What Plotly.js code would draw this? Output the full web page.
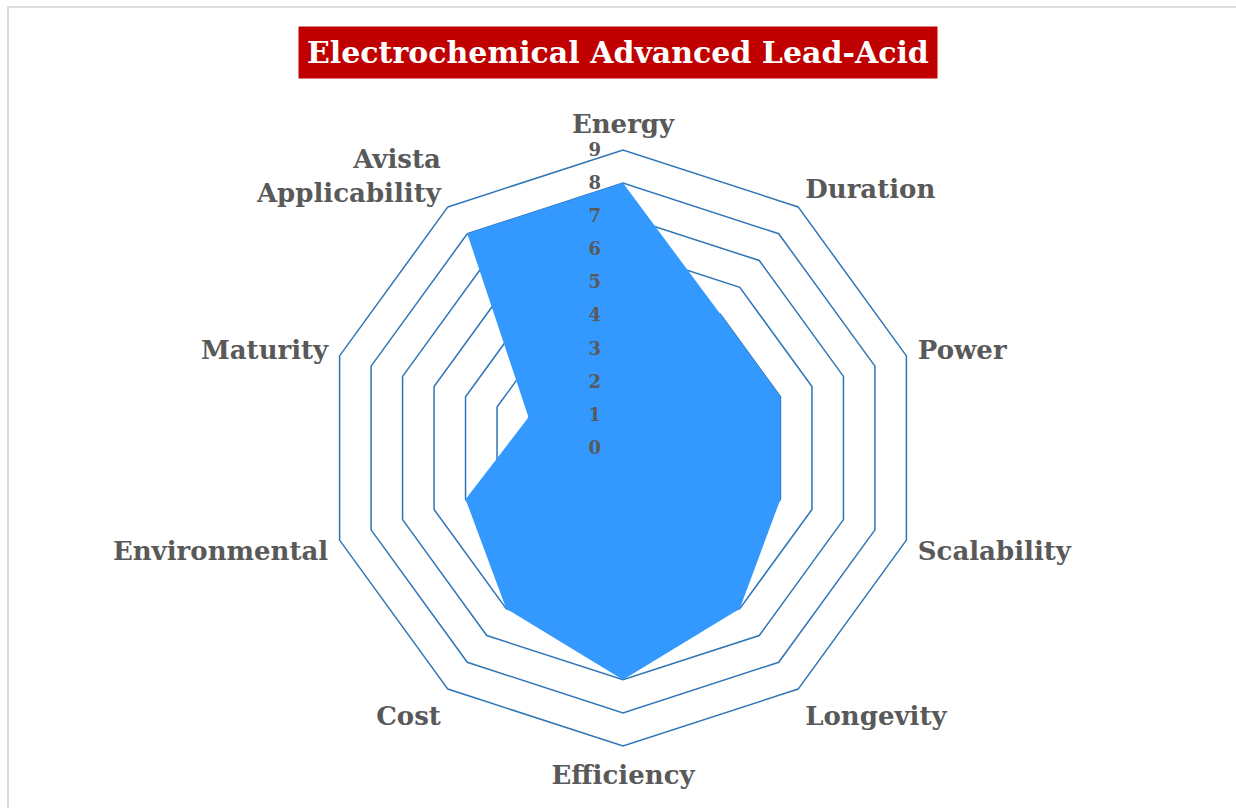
<!DOCTYPE html>
<html>
<head>
<meta charset="utf-8">
<script src="https://cdn.plot.ly/plotly-3.0.1.min.js"></script>
<style>
html,body{margin:0;padding:0;background:#fff;overflow:hidden;}
#frame{position:absolute;left:7px;top:6px;width:1240px;height:820px;border:2px solid #dcdcdc;box-sizing:border-box;}
#chart{position:absolute;left:0;top:0;width:1236px;height:808px;}
</style>
</head>
<body>
<div id="frame"></div>
<div id="chart"></div>
<script>
const categories = ["Energy","Duration","Power","Scalability","Longevity","Efficiency","Cost","Environmental","Maturity","Avista<br>Applicability"];
const values = [8,5,5,5,6,7,6,5,3,8];
const radialTicks = [0,1,2,3,4,5,6,7,8,9];
const chartTitle = "Electrochemical Advanced Lead-Acid";

const serif = "'Palatino Linotype','Book Antiqua',Palatino,'DejaVu Serif',serif";
const grey = "#595959";
const gridBlue = "#2e75b6";

const trace = {
  type: "scatterpolar",
  r: values.concat([values[0]]),
  theta: categories.concat([categories[0]]),
  mode: "lines",
  fill: "toself",
  fillcolor: "#3399ff",
  line: {color: "#3399ff", width: 0},
  hoverinfo: "r+theta"
};

const layout = {
  width: 1236, height: 808,
  margin: {l: 0, r: 0, t: 0, b: 0},
  paper_bgcolor: "rgba(0,0,0,0)",
  plot_bgcolor: "rgba(0,0,0,0)",
  showlegend: false,
  polar: {
    domain: {x: [(623-298)/1236, (623+298)/1236], y: [(808-448-298)/808, (808-448+298)/808]},
    bgcolor: "rgba(0,0,0,0)",
    gridshape: "linear",
    radialaxis: {
      range: [0, 9],
      tickvals: radialTicks,
      ticktext: radialTicks.map(v => String(v) + "\u00a0\u00a0\u00a0"),
      angle: 90,
      tickangle: 90,
      side: "counterclockwise",
      showline: false,
      ticks: "",
      gridcolor: gridBlue,
      gridwidth: 1.5,
      tickfont: {family: serif, size: 18, color: grey, weight: "bold"}
    },
    angularaxis: {
      direction: "clockwise",
      rotation: 90,
      showgrid: false,
      showline: true,
      linecolor: gridBlue,
      linewidth: 1.5,
      ticks: "outside",
      ticklen: 6,
      tickcolor: "rgba(0,0,0,0)",
      tickfont: {family: serif, size: 26, color: grey, weight: "bold"}
    }
  },
  annotations: [{
    text: chartTitle,
    xref: "paper", yref: "paper",
    x: 0.5, y: 1 - 53/808,
    xanchor: "center", yanchor: "middle",
    showarrow: false,
    bgcolor: "#c00000",
    borderpad: 8,
    font: {family: serif, size: 30, color: "#ffffff", weight: "bold"}
  }]
};

Plotly.newPlot("chart", [trace], layout, {displayModeBar: false, staticPlot: true});
</script>
</body>
</html>
